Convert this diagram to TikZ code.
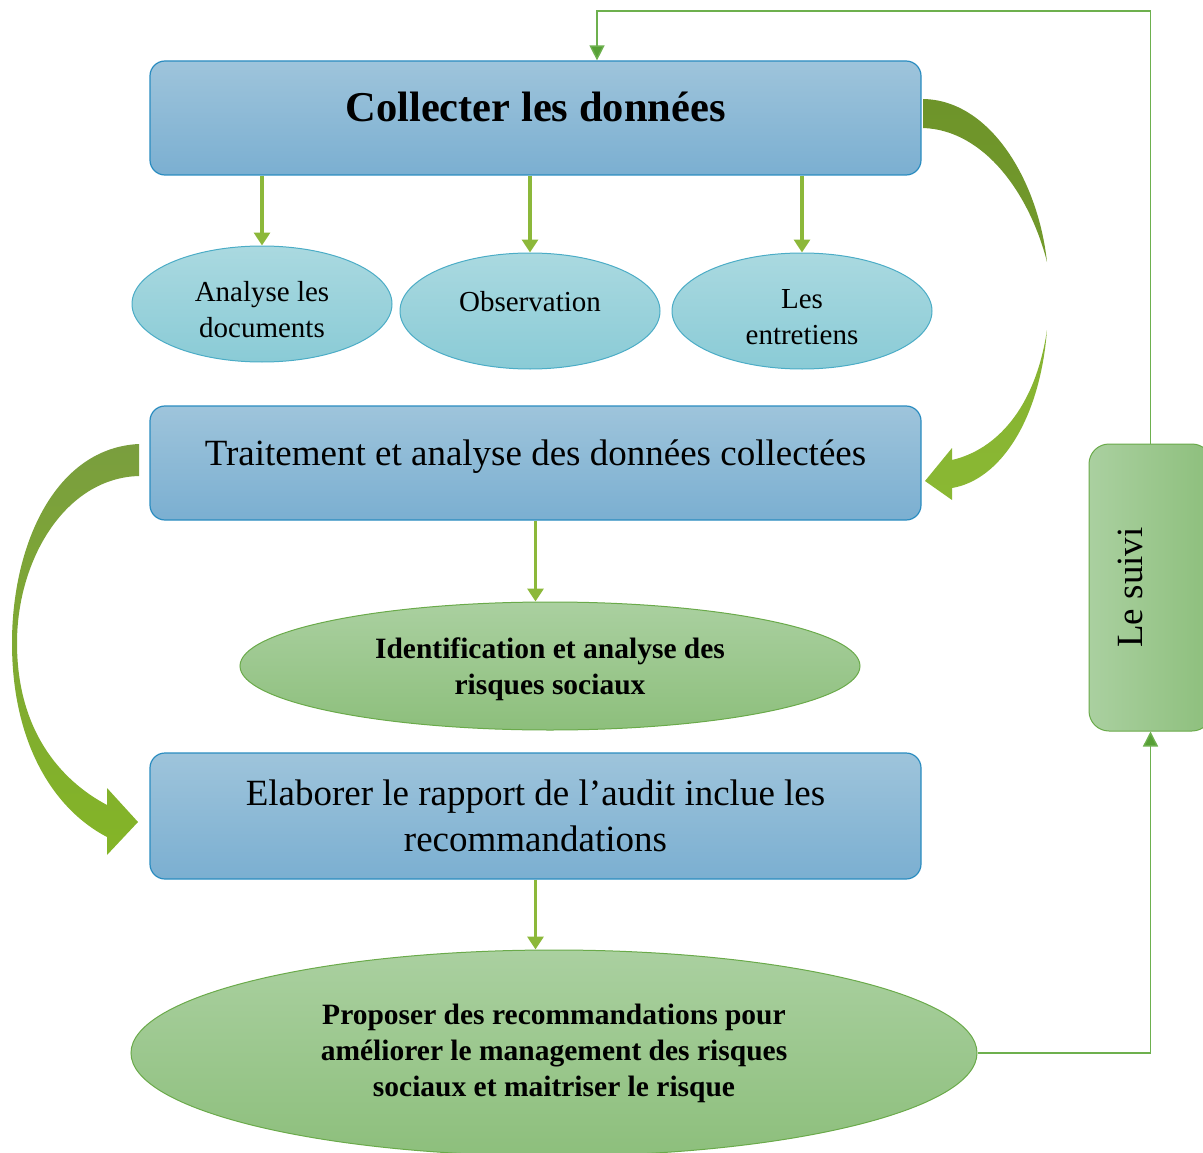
\documentclass[tikz,border=0pt]{standalone}
\usepackage{fontspec}
\setmainfont{Liberation Serif}
\usetikzlibrary{shapes.geometric,arrows.meta}

\definecolor{boxtop}{HTML}{9EC4DB}
\definecolor{boxbot}{HTML}{7BAFD1}
\definecolor{boxline}{HTML}{2A8CC0}
\definecolor{tealtop}{HTML}{AAD9E0}
\definecolor{tealbot}{HTML}{8ACBD6}
\definecolor{tealline}{HTML}{4BACC6}
\definecolor{verttop}{HTML}{AAD0A0}
\definecolor{vertbot}{HTML}{8DBF7C}
\definecolor{vertline}{HTML}{6AAA4A}
\definecolor{flechevert}{HTML}{8CB83A}
\definecolor{retourvert}{HTML}{6DB04E}
\definecolor{retourtip}{HTML}{57A036}
\definecolor{courbefonce}{HTML}{6E942A}
\definecolor{courbeclair}{HTML}{8AB833}
\definecolor{courbehaut}{HTML}{7A9E3E}
\definecolor{courbebas}{HTML}{84B527}

\tikzset{
  etape/.style={draw=boxline, line width=1.2pt, rounded corners=15pt,
    top color=boxtop, bottom color=boxbot, minimum width=771pt,
    inner sep=0pt, align=center},
  outil/.style={ellipse, draw=tealline, line width=1pt, top color=tealtop,
    bottom color=tealbot, minimum width=260pt, minimum height=116pt,
    inner sep=0pt, align=center, font=\fontsize{29}{36}\selectfont},
  resultat/.style={ellipse, draw=vertline, line width=1pt, top color=verttop,
    bottom color=vertbot, inner sep=0pt, align=center,
    font=\fontsize{29.5}{36}\selectfont\bfseries},
  fleche/.style={draw=flechevert, line width=3.6pt,
    -{Triangle[width=16pt,length=13pt,fill=flechevert]}},
  retour/.style={draw=retourvert, line width=1.4pt,
    -{Triangle[width=15pt,length=15pt,fill=retourtip]}},
}

\begin{document}
\begin{tikzpicture}[x=1pt,y=-1pt]
\useasboundingbox (0,0) rectangle (1203,1153);

\node[etape, minimum height=114pt, text depth=22pt,
  font=\fontsize{42.5}{50}\selectfont\bfseries]
  (col) at (535.5,118) {Collecter les données};
\node[outil] (doc) at (262,304) {\rule{0pt}{32pt}Analyse les\\documents};
\node[outil, text depth=20pt] (obs) at (530,311) {Observation};
\node[outil] (ent) at (802,311) {\rule{0pt}{32pt}Les\\entretiens};
\node[etape, minimum height=114pt, text depth=20pt, font=\fontsize{37}{46}\selectfont]
  (trt) at (535.5,463) {Traitement et analyse des données collectées};
\node[resultat, minimum width=620pt, minimum height=128pt]
  (idr) at (550,666) {\rule{0pt}{28pt}Identification et analyse des\\risques sociaux};
\node[etape, minimum height=126pt, font=\fontsize{37}{46}\selectfont]
  (rap) at (535.5,816) {Elaborer le rapport de l’audit inclue les\\recommandations};
\node[resultat, minimum width=846pt, minimum height=206pt]
  (prop) at (554,1053) {Proposer des recommandations pour\\améliorer le management des risques\\sociaux et maitriser le risque};
\node[draw=vertline, line width=1pt, rounded corners=20pt, left color=verttop,
  right color=vertbot, minimum width=123pt, minimum height=287pt,
  font=\fontsize{37}{46}\selectfont]
  (suivi) at (1150.5,587.5) {\rotatebox{90}{Le suivi}\kern40pt};
\coordinate (haut) at (597,11);

\draw[fleche] (doc.north |- col.south) -- (doc.north);
\draw[fleche] (obs.north |- col.south) -- (obs.north);
\draw[fleche] (ent.north |- col.south) -- (ent.north);
\draw[fleche] (trt.south) -- (trt.south |- idr.north);
\draw[fleche] (rap.south) -- (rap.south |- prop.north);

\draw[retour] (prop.east) -| (suivi.south);
\draw[retour] (suivi.north) |- (haut) -- (haut |- col.north);

\shade[top color=courbefonce, bottom color=courbefonce!85!courbeclair]
  (923,99) .. controls (990,100) and (1038,180) .. (1047,262)
  .. controls (1030,195) and (985,130) .. (923,128) -- cycle;
\shade[top color=courbeclair!85!courbefonce, bottom color=courbeclair]
  (1047,330) .. controls (1040,420) and (1000,480) .. (952,488)
  -- (952,500) -- (925,481) -- (952,448) -- (952,460)
  .. controls (995,450) and (1035,410) .. (1047,330) -- cycle;
\shade[top color=courbehaut, bottom color=courbebas]
  (139,444) .. controls (55,448) and (12,545) .. (12,643)
  .. controls (12,745) and (55,810) .. (107,837)
  -- (107,855) -- (138,822) -- (107,788) -- (107,805)
  .. controls (60,780) and (17,730) .. (17,643)
  .. controls (17,560) and (65,478) .. (139,476) -- cycle;
\end{tikzpicture}
\end{document}
